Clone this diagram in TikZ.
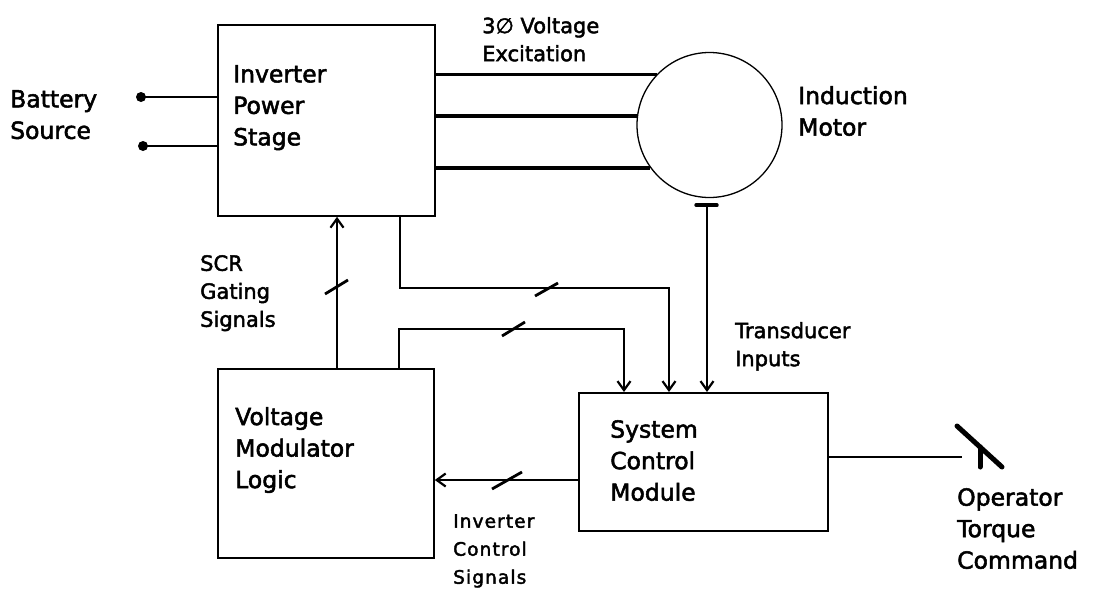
\documentclass[tikz,border=0pt]{standalone}
\usepackage{fontspec}
\setmainfont[FakeBold=2.2]{DejaVu Sans}
\newfontfamily\spacedfont[LetterSpace=6,FakeBold=2.2]{DejaVu Sans}
\usetikzlibrary{arrows.meta}
\begin{document}
\begin{tikzpicture}[x=1pt,y=-1pt,
  blk/.style={draw,line width=1.8pt,inner sep=0,anchor=north west},
  motor/.style={draw,circle,line width=1.3pt,inner sep=0,minimum size=145pt},
  wire/.style={line width=2.4pt},
  phase/.style={line width=3.2pt},
  arr/.style={wire,-{Straight Barb[length=9pt,width=13pt,line width=2.2pt]}},
  slashmark/.style={line width=2.8pt},
  term/.style={circle,fill,inner sep=0,minimum size=10pt},
  big/.style={font=\fontsize{23.5}{31.5}\selectfont,align=left,inner sep=0,anchor=north west},
  small/.style={font=\fontsize{21}{28}\selectfont,align=left,inner sep=0,anchor=north west},
  tiny/.style={font=\spacedfont\fontsize{18.5}{28}\selectfont,align=left,inner sep=0,anchor=north west}]
\useasboundingbox (0,0) rectangle (1094,595);

% blocks
\node[blk,minimum width=217pt,minimum height=191pt] (inv) at (217,24) {};
\node[blk,minimum width=216pt,minimum height=189pt] (vm) at (217,368) {};
\node[blk,minimum width=249pt,minimum height=138pt] (scm) at (578,392) {};
\node[motor] (m) at (709.5,125) {};

% block texts
\node[big] (invtxt) at (233,65) {Inverter\\Power\\Stage};
\node[big] (vmtxt) at (235,407) {Voltage\\Modulator\\Logic};
\node[big] (scmtxt) at (610,420) {System\\Control\\Module};

% labels
\node[big] (battxt) at (10,90) {Battery\\Source};
\node[big] (mottxt) at (798,86) {Induction\\Motor};
\node[big] (optxt) at (957,488) {Operator\\Torque\\Command};
\node[small] (phtxt) at (482,17) {3∅ Voltage\\Excitation};
\node[small] (trtxt) at (735,322) {Transducer\\Inputs};
\node[small] (scrtxt) at (200,255) {SCR\\Gating\\Signals};
\node[tiny] (ictxt) at (453,514) {Inverter\\Control\\Signals};

% battery terminals
\node[term] (t1) at (141,97) {};
\node[term] (t2) at (143,146) {};
\draw[wire] (t1.center) -- (t1.center -| inv.west);
\draw[wire] (t2.center) -- (t2.center -| inv.west);

% three phase lines
\draw[phase] (inv.east |- m.136.4) -- (m.136.4);
\draw[phase] (inv.east |- m.173.7) -- (m.173.7);
\draw[phase] (inv.east |- m.216.4) -- (m.216.4);

% transducer
\coordinate (tb) at ([xshift=-2.5pt,yshift=-7pt]m.south);
\draw[line width=3.4pt,line cap=round] ([xshift=-11pt]tb) -- ([xshift=10pt]tb);
\draw[arr] (tb) -- (tb |- scm.north);

% inverter to system control
\coordinate (k1) at (400,288);
\coordinate (k2) at (669,288);
\draw[arr] (k1 |- inv.south) -- (k1) -| (k2 |- scm.north);
\draw[slashmark] (535,296) -- (558,283);

% voltage modulator to system control
\coordinate (k3) at (399,329);
\coordinate (k4) at (624,329);
\draw[arr] (k3 |- vm.north) -- (k3) -| (k4 |- scm.north);
\draw[slashmark] (502,336) -- (525,322);

% SCR gating
\coordinate (k5) at (337,290);
\draw[arr] (k5 |- vm.north) -- (k5 |- inv.south);
\draw[slashmark] (325,294) -- (348,280);

% inverter control signals
\coordinate (k6) at (505,480);
\draw[arr] (scm.west |- k6) -- (vm.east |- k6);
\draw[slashmark] (492,489) -- (522,472);

% operator torque command pedal
\coordinate (k7) at (962,457);
\draw[wire] (scm.east |- k7) -- (k7);
\coordinate (p1) at (957,426);
\coordinate (p2) at (1002,467);
\coordinate (p3) at (980,447);
\coordinate (p4) at (980,467);
\draw[line width=5pt,line cap=round] (p1) -- (p2);
\draw[line width=5pt,line cap=round] (p3) -- (p4);
\end{tikzpicture}
\end{document}
